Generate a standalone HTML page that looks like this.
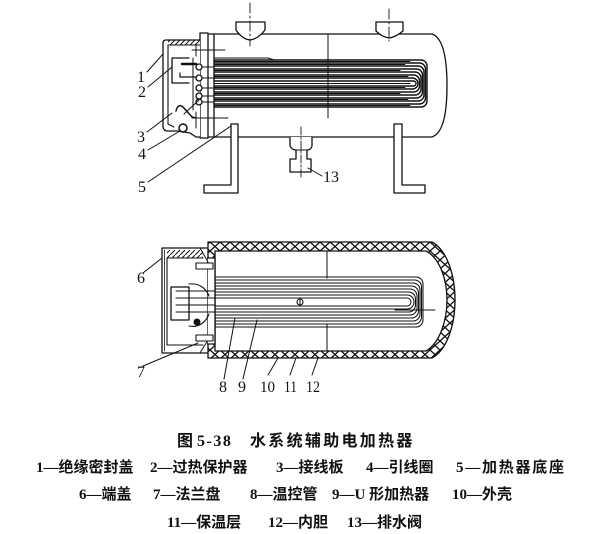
<!DOCTYPE html>
<html><head><meta charset="utf-8">
<style>
html,body{margin:0;padding:0;background:#fff;}
svg{display:block;}
.lb{font-family:"Liberation Serif",serif;font-size:16px;fill:#111;}
.cap{font-family:"Liberation Serif","Noto Sans CJK SC",serif;fill:#111;font-weight:bold;}
</style></head><body>
<svg width="608" height="534" viewBox="0 0 608 534" xmlns="http://www.w3.org/2000/svg">
<defs>
<pattern id="xh" patternUnits="userSpaceOnUse" width="10" height="9" x="0" y="242">
<path d="M0,0 L10,9 M10,0 L0,9" stroke="#111" stroke-width="1.3" fill="none"/>
</pattern>
<pattern id="dh" patternUnits="userSpaceOnUse" width="5" height="5">
<path d="M0,5 L5,0" stroke="#111" stroke-width="1" fill="none"/>
</pattern>
</defs>

<g fill="none" stroke="#111" stroke-width="1.3" stroke-linecap="round" stroke-linejoin="round">
<!-- ============ TOP VIEW ============ -->
<path d="M209,34 L432,34 C444,38 447,62 447,86 C447,110 444,133 432,137 L209,137" fill="#fff"/>
<path d="M236,22 L236,30 Q242,39 250,40 Q258,39 265,30 L265,22 Z" fill="#fff"/>
<path d="M376,22 L376,31 Q382,37 389,38 Q396,37 403,31 L403,22 Z" fill="#fff"/>
<line x1="250" y1="3" x2="250" y2="46" stroke-width="0.9" stroke-dasharray="10 3 2 3"/>
<line x1="389" y1="9" x2="389" y2="41" stroke-width="0.9" stroke-dasharray="10 3 2 3"/>
<line x1="328" y1="34" x2="328" y2="118" stroke-width="1"/>

<g stroke-width="1.4">
<path d="M214,60 L421,60 A6,6 0 0 1 427,66 L427,101 A6,6 0 0 1 421,107 L214,107"/>
<path d="M214,63 L419.5,63 A6,6 0 0 1 425.5,69 L425.5,98 A6,6 0 0 1 419.5,104 L214,104"/>
<path d="M214,66 L418,66 A6,6 0 0 1 424,72 L424,95 A6,6 0 0 1 418,101 L214,101"/>
<path d="M214,69 L416.5,69 A6,6 0 0 1 422.5,75 L422.5,92 A6,6 0 0 1 416.5,98 L214,98"/>
<path d="M214,72 L415,72 A6,6 0 0 1 421,78 L421,89 A6,6 0 0 1 415,95 L214,95"/>
<path d="M214,75 L413.5,75 A6,6 0 0 1 419.5,81 L419.5,86 A6,6 0 0 1 413.5,92 L214,92"/>
<path d="M214,78 L412.5,78 A5.5,5.5 0 0 1 412.5,89 L214,89"/>
<path d="M214,81 L413.5,81 A2.5,2.5 0 0 1 413.5,86 L214,86"/>
</g>
<g stroke-width="0.9">
<path d="M214,61.5 L410,61.5 M214,64.5 L405,64.5 M214,70.5 L400,70.5 M214,76.5 L408,76.5 M214,83.5 L410,83.5 M214,87.5 L405,87.5 M214,93.5 L400,93.5 M214,99.5 L408,99.5 M214,105.5 L410,105.5"/>
</g>
<line x1="214" y1="58" x2="268" y2="58" stroke-width="1"/>
<line x1="268" y1="58" x2="274" y2="60" stroke-width="1"/>

<rect x="200" y="33" width="8" height="105" fill="#fff"/>
<line x1="214" y1="34" x2="214" y2="137"/>

<path d="M200,40 L166,40 Q163,40 163,43 L163,126 Q163,131 168,131 L178,131 L190,133 L196,137 L200,137" fill="#fff"/>
<path d="M200,45 L168,45 L168,124 L174,127" stroke-width="1.1"/>
<rect x="168" y="40" width="32" height="5" fill="url(#dh)" stroke="none"/>
<line x1="192" y1="50" x2="225" y2="50" stroke-width="1"/>
<line x1="192" y1="118" x2="228" y2="118" stroke-width="1"/>
<line x1="196" y1="45" x2="196" y2="56" stroke-width="1"/>
<line x1="196" y1="112" x2="196" y2="128" stroke-width="1"/>
<path d="M189,58 L172,58 L172,83 L189,83" fill="#fff"/>
<line x1="182" y1="64" x2="196" y2="64" stroke-width="2.4"/>
<path d="M180,73 L180,77 L196,77" stroke-width="1.2"/>
<line x1="193" y1="58" x2="193" y2="110" stroke-width="1"/>
<g fill="#fff" stroke-width="1.3">
<circle cx="199" cy="67" r="3"/>
<circle cx="199" cy="78" r="3"/>
<circle cx="199" cy="88" r="3"/>
<circle cx="199" cy="96" r="3"/>
<circle cx="199" cy="102" r="3"/>
</g>
<g stroke-width="1">
<path d="M202,67 L214,67 M202,78 L214,78 M202,88 L214,88 M202,96 L214,96 M202,102 L214,102"/>
</g>
<path d="M176,111 Q178,103 183,107 L192,117 L196,118" stroke-width="1.5"/>
<path d="M184,114 L199,100" stroke-width="1"/>
<circle cx="183" cy="128" r="4" fill="#fff" stroke-width="1.5"/>

<path d="M231,124 L238,124 L238,193 L204,193 L204,185 L231,185 Z" fill="#fff"/>
<path d="M394,124 L402,124 L402,185 L425,185 L425,193 L394,193 Z" fill="#fff"/>

<path d="M290,137 L290,146 Q292,150 296,150 L296,159 L290,159 L290,172 L311,172 L311,159 L307,159 L307,150 Q311,150 312,146 L312,137" fill="#fff"/>
<line x1="296" y1="150" x2="307" y2="150" stroke-width="1"/>
<line x1="301" y1="127" x2="301" y2="177" stroke-width="0.9" stroke-dasharray="8 2 2 2"/>

<g stroke-width="1">
<line x1="147" y1="72" x2="163" y2="54"/>
<line x1="148" y1="87" x2="172" y2="67"/>
<line x1="147" y1="132" x2="172" y2="113"/>
<line x1="148" y1="150" x2="180" y2="131"/>
<line x1="148" y1="182" x2="231" y2="126"/>
<line x1="308" y1="168" x2="322" y2="176"/>
</g>

<!-- ============ BOTTOM VIEW ============ -->
<path fill-rule="evenodd" fill="url(#xh)" d="M208,242 L432,242 C447,250 455,275 455,300 C455,325 447,350 432,358 L208,358 Z M215,251 L426,251 C440,258 447,280 447,300 C447,320 440,343 426,351 L215,351 Z"/>
<line x1="327" y1="251" x2="327" y2="278" stroke-width="1"/>
<line x1="327" y1="324" x2="327" y2="351" stroke-width="1"/>

<g stroke-width="1.05">
<path d="M215,277 L416,277 A7,7 0 0 1 423,284 L423,320 A7,7 0 0 1 416,327 L215,327"/>
<path d="M215,280 L414.5,280 A7,7 0 0 1 421.5,287 L421.5,317 A7,7 0 0 1 414.5,324 L215,324"/>
<path d="M215,283 L413,283 A7,7 0 0 1 420,290 L420,314 A7,7 0 0 1 413,321 L215,321"/>
<path d="M215,286 L411.5,286 A7,7 0 0 1 418.5,293 L418.5,311 A7,7 0 0 1 411.5,318 L215,318"/>
<path d="M215,289 L410,289 A7,7 0 0 1 417,296 L417,308 A7,7 0 0 1 410,315 L215,315"/>
<path d="M215,292 L408.5,292 A7,7 0 0 1 415.5,299 L415.5,305 A7,7 0 0 1 408.5,312 L215,312"/>
<path d="M215,295 L407,295 A7,7 0 0 1 407,309 L215,309"/>
<path d="M215,298 L407,298 A4,4 0 0 1 407,306 L215,306"/>
</g>
<line x1="395" y1="310" x2="435" y2="310" stroke-width="1"/>
<circle cx="300" cy="302" r="3" fill="#fff" stroke-width="1.1"/>
<line x1="300" y1="299" x2="300" y2="305" stroke-width="1"/>

<rect x="207" y="258" width="8" height="86" fill="#fff"/>
<path d="M207,248 L162,248 L162,353 L207,353" fill="#fff"/>
<path d="M203,258 L167,258 L167,345 L203,345" stroke-width="1.1"/>
<rect x="167" y="250" width="36" height="8" fill="url(#dh)" stroke="none"/>
<line x1="164.5" y1="250" x2="164.5" y2="351" stroke-width="0.8"/>
<path d="M200,248 L208,262" stroke-width="1"/>
<path d="M200,353 L208,340" stroke-width="1"/>
<rect x="196" y="263" width="17" height="6" fill="#fff" stroke-width="1.1"/>
<rect x="196" y="335" width="17" height="6" fill="#fff" stroke-width="1.1"/>
<rect x="171" y="287" width="18" height="33" fill="#fff"/>
<path d="M189,284 C199,283 206,288 209,296" stroke-width="1.1"/>
<path d="M189,326 C199,328 206,322 209,314" stroke-width="1.1"/>
<g stroke-width="0.9">
<path d="M176,291 L215,291 M176,298 L215,298 M176,305 L215,305 M176,312 L215,312"/>
</g>
<circle cx="197" cy="322" r="3" fill="#111" stroke-width="1"/>

<g stroke-width="1">
<line x1="143" y1="273" x2="162" y2="258"/>
<line x1="143" y1="366" x2="198" y2="343"/>
<line x1="224" y1="379" x2="235" y2="318"/>
<line x1="243" y1="379" x2="257" y2="320"/>
<line x1="268" y1="375" x2="278" y2="358"/>
<line x1="290" y1="375" x2="296" y2="358"/>
<line x1="312" y1="375" x2="318" y2="358"/>
</g>
</g>

<g class="lb">
<text x="137" y="82">1</text>
<text x="138" y="97">2</text>
<text x="137" y="142">3</text>
<text x="138" y="159">4</text>
<text x="138" y="192">5</text>
<text x="323" y="182">13</text>
<text x="137" y="283">6</text>
<text x="137" y="377">7</text>
<text x="219" y="392">8</text>
<text x="238" y="392">9</text>
<text x="260" y="392" textLength="15" lengthAdjust="spacingAndGlyphs">10</text>
<text x="284" y="392" textLength="13" lengthAdjust="spacingAndGlyphs">11</text>
<text x="306" y="392" textLength="14" lengthAdjust="spacingAndGlyphs">12</text>
</g>

<g class="cap">
<text x="177" y="446" font-size="16">图</text>
<text x="197" y="446" font-size="16" letter-spacing="1.5">5-38</text>
<text x="250" y="446" font-size="16" letter-spacing="2.3">水系统辅助电加热器</text>

<g font-size="15">
<text x="36" y="472">1—绝缘密封盖</text>
<text x="150" y="472">2—过热保护器</text>
<text x="276" y="472">3—接线板</text>
<text x="366" y="472">4—引线圈</text>
<text x="456" y="472" textLength="108" lengthAdjust="spacing">5—加热器底座</text>

<text x="79" y="499">6—端盖</text>
<text x="153" y="499">7—法兰盘</text>
<text x="250" y="499">8—温控管</text>
<text x="332" y="499">9—U 形加热器</text>
<text x="452" y="499">10—外壳</text>

<text x="167" y="527">11—保温层</text>
<text x="268" y="527">12—内胆</text>
<text x="347" y="527">13—排水阀</text>
</g>
</g>
</svg>
</body></html>
